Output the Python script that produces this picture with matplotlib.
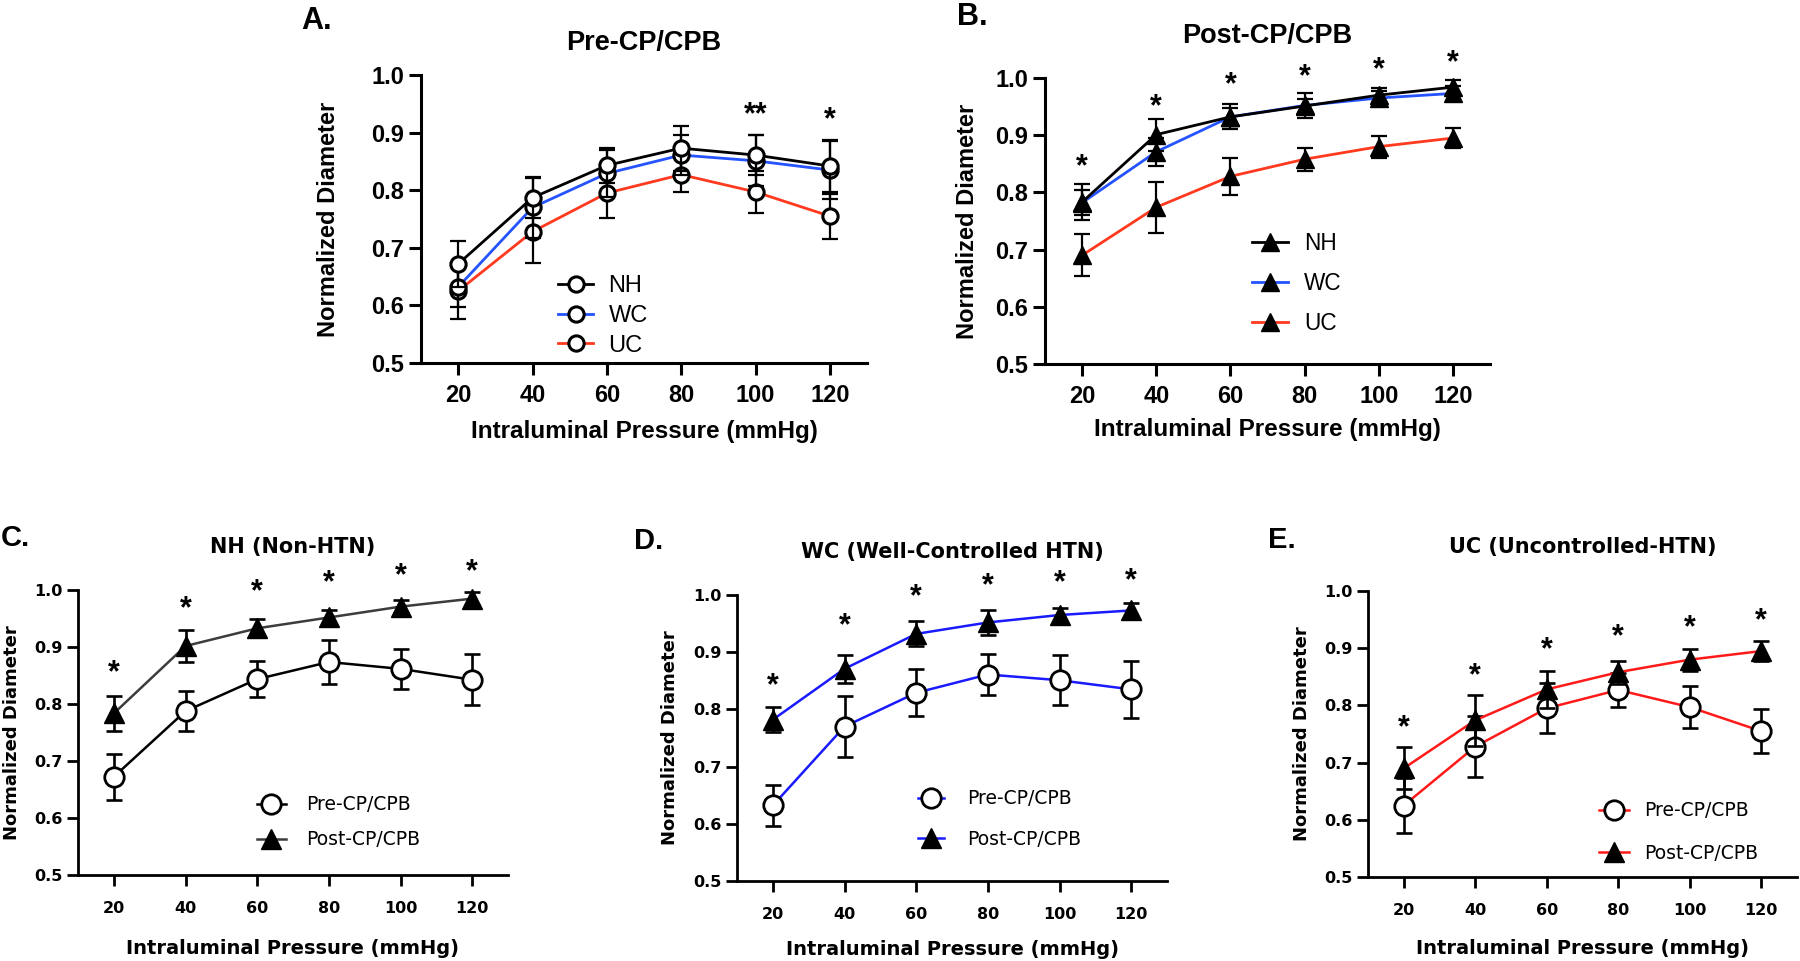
import matplotlib
matplotlib.use("Agg")
import matplotlib.pyplot as plt

# ---------------- data ----------------
pressure = [20, 40, 60, 80, 100, 120]
y_ticks = [0.5, 0.6, 0.7, 0.8, 0.9, 1.0]

nh_pre = [0.672, 0.787, 0.843, 0.873, 0.861, 0.842]
nh_pre_sem = [0.040, 0.035, 0.031, 0.039, 0.035, 0.045]
nh_post = [0.783, 0.901, 0.932, 0.951, 0.970, 0.984]
nh_post_sem = [0.031, 0.028, 0.016, 0.013, 0.012, 0.012]

wc_pre = [0.632, 0.770, 0.829, 0.861, 0.851, 0.835]
wc_pre_sem = [0.035, 0.053, 0.041, 0.035, 0.044, 0.050]
wc_post = [0.782, 0.871, 0.932, 0.952, 0.965, 0.973]
wc_post_sem = [0.022, 0.024, 0.022, 0.022, 0.013, 0.013]

uc_pre = [0.625, 0.728, 0.795, 0.827, 0.797, 0.755]
uc_pre_sem = [0.048, 0.054, 0.044, 0.030, 0.037, 0.039]
uc_post = [0.690, 0.774, 0.828, 0.858, 0.880, 0.895]
uc_post_sem = [0.037, 0.045, 0.033, 0.020, 0.019, 0.018]

groups = ["NH", "WC", "UC"]
phases = ["Pre-CP/CPB", "Post-CP/CPB"]

sig_a = ["", "", "", "", "**", "*"]
sig_a_height = [None, None, None, None, 0.947, 0.938]
sig_all = ["*", "*", "*", "*", "*", "*"]
sig_b_height = [0.861, 0.966, 1.004, 1.017, 1.030, 1.043]
sig_c_height = [0.870, 0.982, 1.011, 1.028, 1.040, 1.047]
sig_d_height = [0.857, 0.961, 1.012, 1.031, 1.037, 1.041]
sig_e_height = [0.776, 0.868, 0.913, 0.935, 0.952, 0.964]

# ---------------- styling ----------------
W, H = 1800, 961
TOP_FONT = "Liberation Sans"
BOT_FONT = "DejaVu Sans"
C_NH, C_WC, C_UC = "#000000", "#2453ff", "#ff3a1f"
C_NH_POST = "#3c3c3c"
C_D, C_E = "#1a1aff", "#ff1a1a"
XLABEL = "Intraluminal Pressure (mmHg)"
YLABEL = "Normalized Diameter"

fig = plt.figure(figsize=(W / 100, H / 100), dpi=100)


def axes_px(left, right, top, bottom):
    return fig.add_axes([left / W, 1 - bottom / H, (right - left) / W, (bottom - top) / H])


def style(ax, font, tsize, lw, tlen, xpad, ypad):
    ax.set_xlim(10, 130)
    ax.set_ylim(0.5, 1.0)
    ax.set_xticks(pressure)
    ax.set_xticklabels([str(p) for p in pressure])
    ax.set_yticks(y_ticks)
    ax.set_yticklabels([f"{v:.1f}" for v in y_ticks])
    for s in ["top", "right"]:
        ax.spines[s].set_visible(False)
    for s in ["left", "bottom"]:
        ax.spines[s].set_linewidth(lw)
    ax.tick_params(width=lw, length=tlen, direction="out", labelsize=tsize)
    ax.tick_params(axis="x", pad=xpad)
    ax.tick_params(axis="y", pad=ypad)
    for lab in ax.get_xticklabels() + ax.get_yticklabels():
        lab.set_fontfamily(font)
        lab.set_fontweight("bold")


def labels(ax, title, font, tsize, ty, xsize, xy, ysize, yx):
    ax.set_title(title, y=ty, pad=0, va="center", fontfamily=font,
                 fontsize=tsize, fontweight="bold")
    ax.set_xlabel(XLABEL, fontfamily=font, fontsize=xsize, fontweight="bold")
    ax.xaxis.set_label_coords(0.5, xy)
    ax.xaxis.label.set_va("center")
    ax.set_ylabel(YLABEL, fontfamily=font, fontsize=ysize, fontweight="bold")
    ax.yaxis.set_label_coords(yx, 0.5)
    ax.yaxis.label.set_va("center")


def series(ax, y, e, color, marker, ms, mew, mfc, lw, elw, cap, label, z):
    ax.errorbar(pressure, y, yerr=e, fmt="none", ecolor="black", elinewidth=elw,
                capsize=cap, capthick=elw, zorder=z)
    line, = ax.plot(pressure, y, color=color, lw=lw, marker=marker, ms=ms, mfc=mfc,
                    mec="black", mew=mew, label=label, zorder=z + 0.5, clip_on=False)
    return line


def stars(ax, marks, heights, fs):
    for x, s, h in zip(pressure, marks, heights):
        if s:
            ax.annotate(s, (x, h), xytext=(0, -0.57 * fs), textcoords="offset points",
                        ha="center", va="baseline", fontsize=fs, fontweight="bold",
                        fontfamily=TOP_FONT, annotation_clip=False)


def letter(x, y, s, fs):
    fig.text(x / W, 1 - y / H, s, ha="left", va="center", fontsize=fs,
             fontweight="bold", fontfamily=TOP_FONT)


# ---------------- Panel A ----------------
axA = axes_px(421, 867, 75, 363)
style(axA, TOP_FONT, 17, 2.2, 8.6, 6.5, 3.5)
kw = dict(marker="o", ms=11, mew=2.2, mfc="white", lw=2.0, elw=1.6, cap=5.6)
hU = series(axA, uc_pre, uc_pre_sem, C_UC, label=groups[2], z=2, **kw)
hW = series(axA, wc_pre, wc_pre_sem, C_WC, label=groups[1], z=3, **kw)
hN = series(axA, nh_pre, nh_pre_sem, C_NH, label=groups[0], z=4, **kw)
axA.legend(handles=[hN, hW, hU], loc="center left", bbox_to_anchor=(0.307, 0.164),
           frameon=False, borderpad=0, borderaxespad=0, handlelength=1.5,
           handletextpad=0.64, labelspacing=0.33,
           prop={"family": TOP_FONT, "size": 17})
labels(axA, phases[0], TOP_FONT, 19.5, 1.1125, 17.5, -0.2385, 17, -0.207)
stars(axA, sig_a, sig_a_height, 22)
letter(301, 21, "A.", 22)

# ---------------- Panel B ----------------
axB = axes_px(1045, 1490, 78, 364)
style(axB, TOP_FONT, 17, 2.2, 8.6, 6.5, 3.5)
kw = dict(marker="^", ms=12.5, mew=1.0, mfc="black", lw=2.0, elw=1.6, cap=5.6)
hU = series(axB, uc_post, uc_post_sem, C_UC, label=groups[2], z=2, **kw)
hW = series(axB, wc_post, wc_post_sem, C_WC, label=groups[1], z=3, **kw)
hN = series(axB, nh_post, nh_post_sem, C_NH, label=groups[0], z=4, **kw)
axB.legend(handles=[hN, hW, hU], loc="center left", bbox_to_anchor=(0.465, 0.281),
           frameon=False, borderpad=0, borderaxespad=0, handlelength=1.6,
           handletextpad=0.69, labelspacing=0.76,
           prop={"family": TOP_FONT, "size": 16.3})
labels(axB, phases[1], TOP_FONT, 19.5, 1.148, 17.5, -0.228, 17, -0.174)
stars(axB, sig_all, sig_b_height, 22)
letter(957, 17, "B.", 22)

# ---------------- Bottom row ----------------
bottom_panels = [
    ("C.", "NH (Non-HTN)", (78, 508, 589.5, 875), nh_pre, nh_pre_sem, nh_post, nh_post_sem,
     C_NH, C_NH_POST, sig_c_height, (0.416, 0.184), 0.85, 1.55, 1.1, (1, 538),
     1.150, -0.259, -0.153),
    ("D.", "WC (Well-Controlled HTN)", (737, 1167, 595, 881), wc_pre, wc_pre_sem, wc_post,
     wc_post_sem, C_D, C_D, sig_d_height, (0.4215, 0.216), 1.15, 1.4, 1.2, (634, 541),
     1.151, -0.239, -0.155),
    ("E.", "UC (Uncontrolled-HTN)", (1368, 1797, 591, 877), uc_pre, uc_pre_sem, uc_post,
     uc_post_sem, C_E, C_E, sig_e_height, (0.5375, 0.157), 1.25, 1.6, 0.85, (1268, 540),
     1.155, -0.249, -0.153),
]

for (let, title, box, pre, pre_e, post, post_e, c_pre, c_post, sig_h, leg_anchor,
     leg_ls, leg_hl, leg_pad, let_xy, ty, xy, yx) in bottom_panels:
    ax = axes_px(*box)
    style(ax, BOT_FONT, 11.5, 2.0, 8, 10.5, 3)
    h1 = series(ax, pre, pre_e, c_pre, "o", 14, 2.0, "white", 1.8, 1.9, 5.8, phases[0], 2)
    h2 = series(ax, post, post_e, c_post, "^", 14.5, 1.0, "black", 1.8, 1.9, 5.8, phases[1], 3)
    ax.legend(handles=[h1, h2], loc="center left", bbox_to_anchor=leg_anchor,
              frameon=False, borderpad=0, borderaxespad=0, handlelength=leg_hl,
              handletextpad=leg_pad, labelspacing=leg_ls,
              prop={"family": BOT_FONT, "size": 13.5})
    labels(ax, title, BOT_FONT, 15, ty, 14, xy, 13, yx)
    stars(ax, sig_all, sig_h, 22)
    letter(let_xy[0], let_xy[1], let, 21)

fig.savefig("out.png", dpi=100)
